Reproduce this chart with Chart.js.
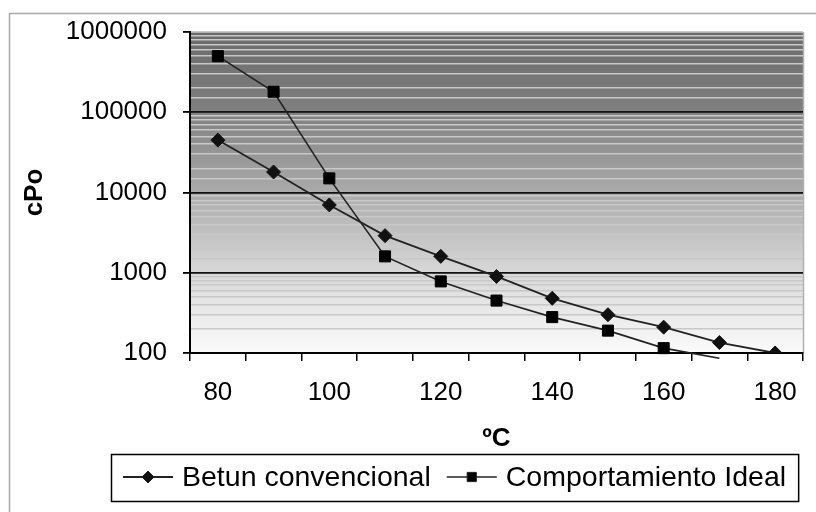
<!DOCTYPE html>
<html>
<head>
<meta charset="utf-8">
<script src="https://cdn.jsdelivr.net/npm/chart.js@4.4.0/dist/chart.umd.min.js"></script>
<style>
body { margin: 0; background: #fff; }
#wrap { width: 816px; height: 512px; }
</style>
</head>
<body>
<div id="wrap"><canvas id="visc"></canvas></div>
<script>
var temps = ['80', '90', '100', '110', '120', '130', '140', '150', '160', '170', '180'];
var betun = [45000, 18000, 7000, 2900, 1600, 900, 480, 300, 210, 135, 100];
var ideal = [500000, 180000, 15000, 1600, 780, 450, 280, 190, 115, 86, null];
var yLabels = [100, 1000, 10000, 100000, 1000000];
var seriesNames = ['Betun convencional', 'Comportamiento Ideal'];

var FONT = '"Liberation Sans", Arial, sans-serif';
Chart.defaults.font.family = FONT;
Chart.defaults.color = '#000';

function isDecade(v) {
  var l = Math.log10(v);
  return Math.abs(l - Math.round(l)) < 1e-9;
}

// gradient plot background + outer frame
var background = {
  id: 'background',
  beforeDraw: function(chart) {
    var ctx = chart.ctx, a = chart.chartArea;
    ctx.save();
    ctx.strokeStyle = '#a8a8a8';
    ctx.lineWidth = 1.5;
    ctx.strokeRect(9.5, 13.5, 900, 600);
    var g = ctx.createLinearGradient(0, a.top, 0, a.bottom);
    g.addColorStop(0, '#6a6a6a');
    g.addColorStop(0.25, '#808080');
    g.addColorStop(0.5, '#ababab');
    g.addColorStop(0.75, '#d8d8d8');
    g.addColorStop(1, '#fbfbfb');
    ctx.fillStyle = g;
    ctx.fillRect(a.left, a.top, a.right - a.left, a.bottom - a.top);
    ctx.strokeStyle = '#b0b0b0';
    ctx.beginPath();
    ctx.moveTo(a.right + 0.5, a.top);
    ctx.lineTo(a.right + 0.5, a.bottom);
    ctx.stroke();
    ctx.restore();
  }
};

// legend drawn in a box, symbols as line + marker
var boxLegend = {
  id: 'boxLegend',
  afterDraw: function(chart) {
    var ctx = chart.ctx;
    var x = 123, y = 477;
    ctx.save();
    ctx.font = '28.5px ' + FONT;
    ctx.textBaseline = 'middle';
    chart.data.datasets.forEach(function(ds, i) {
      ctx.strokeStyle = ds.borderColor;
      ctx.lineWidth = ds.borderWidth;
      ctx.beginPath();
      ctx.moveTo(x, y);
      ctx.lineTo(x + 50, y);
      ctx.stroke();
      ctx.fillStyle = ds.backgroundColor;
      ctx.lineWidth = 1;
      Chart.helpers.drawPoint(ctx, {pointStyle: ds.pointStyle, radius: i === 0 ? 6 : 6.5, borderWidth: 1, rotation: 0}, x + 25, y);
      ctx.fillStyle = '#000';
      ctx.fillText(ds.label, x + 59, y + 1);
      x += 59 + ctx.measureText(ds.label).width + 16;
    });
    ctx.strokeStyle = '#000';
    ctx.lineWidth = 1.5;
    ctx.strokeRect(111.5, 454.5, (x - 16 + 12) - 111, 47);
    ctx.restore();
  }
};

new Chart(document.getElementById('visc'), {
  type: 'line',
  data: {
    labels: temps,
    datasets: [{
      label: seriesNames[0],
      data: betun,
      borderColor: '#222',
      backgroundColor: '#111',
      borderWidth: 1.8,
      pointStyle: 'rectRot',
      pointRadius: 7,
      pointBorderWidth: 1,
      pointBorderColor: '#111',
      pointBackgroundColor: '#111'
    }, {
      label: seriesNames[1],
      data: ideal,
      borderColor: '#222',
      backgroundColor: '#000',
      borderWidth: 1.6,
      pointStyle: 'rect',
      pointRadius: function(c) { return c.raw !== null && c.raw < 100 ? 0 : 7.8; },
      pointBorderWidth: 1,
      pointBorderColor: '#000',
      pointBackgroundColor: '#000',
      clip: {left: 0, top: 0, right: 0, bottom: 6}
    }]
  },
  plugins: [background, boxLegend],
  options: {
    responsive: true,
    maintainAspectRatio: false,
    animation: false,
    devicePixelRatio: 1,
    layout: {padding: {left: 19, right: 13, top: 32, bottom: 56}},
    plugins: {
      legend: {display: false},
      tooltip: {enabled: false}
    },
    scales: {
      x: {
        type: 'category',
        offset: true,
        afterFit: function(s) { s.height = 103; },
        border: {display: true, color: '#000', width: 2},
        grid: {offset: true, drawOnChartArea: false, drawTicks: true, tickLength: 8, color: '#000', lineWidth: 1.5},
        ticks: {
          autoSkip: false, maxRotation: 0, padding: 16,
          font: {size: 26}, color: '#000',
          callback: function(v, i) { return i % 2 === 0 ? this.getLabelForValue(v) : ''; }
        },
        title: {display: true, text: 'ºC', font: {size: 26, weight: 'bold'}, color: '#000', padding: {top: 0, bottom: 2}}
      },
      y: {
        type: 'logarithmic',
        min: 100,
        max: 1000000,
        afterFit: function(s) { s.width = 171; },
        border: {display: true, color: '#000', width: 2},
        grid: {
          color: function(c) {
            var v = c.tick ? c.tick.value : 0;
            return isDecade(v) && v > 100 && v < 1000000 ? '#111' : '#c8c8c8';
          },
          lineWidth: function(c) {
            var v = c.tick ? c.tick.value : 0;
            return isDecade(v) ? 1.8 : 1.5;
          },
          tickColor: function(c) { return c.tick && isDecade(c.tick.value) ? '#000' : 'rgba(0,0,0,0)'; },
          tickLength: 7
        },
        ticks: {
          autoSkip: false, padding: 16,
          font: {size: 26}, color: '#000',
          callback: function(v) { return yLabels.indexOf(v) >= 0 ? String(v) : ''; }
        },
        title: {display: true, text: 'cPo', font: {size: 26, weight: 'bold'}, color: '#000', padding: {top: 0, bottom: 0}}
      }
    }
  }
});
</script>
</body>
</html>
